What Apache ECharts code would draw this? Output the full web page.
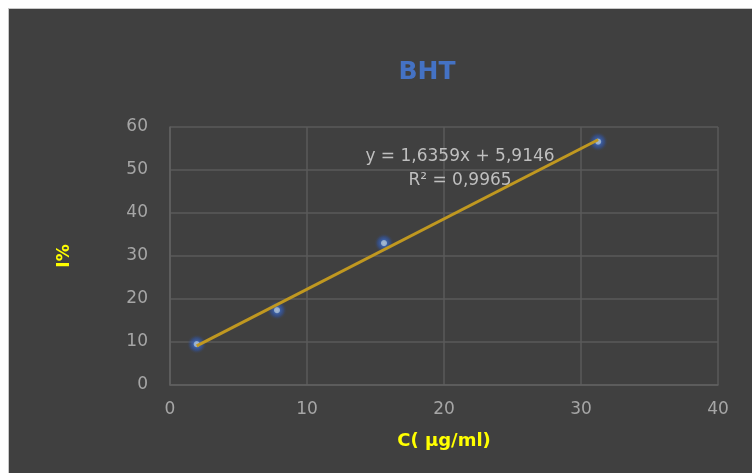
<!DOCTYPE html>
<html>
<head>
<meta charset="utf-8">
<script src="https://cdn.jsdelivr.net/npm/echarts@6/dist/echarts.min.js"></script>
<style>
html,body{margin:0;padding:0;background:#fff;}
#c{width:752px;height:473px;}
</style>
</head>
<body>
<div id="c"></div>
<script>
// Data
var concentrations = [1.95, 7.81, 15.62, 31.25];
var inhibition = [9.5, 17.4, 33.0, 56.6];
// Trendline shown in the chart: y = 1,6359x + 5,9146
var slope = 1.6359;
var intercept = 5.9146;
var equationText = 'y = 1,6359x + 5,9146';
var r2Text = 'R² = 0,9965';

var points = concentrations.map(function (x, i) { return [x, inhibition[i]]; });
var xMin = Math.min.apply(null, concentrations);
var xMax = Math.max.apply(null, concentrations);
var trend = [[xMin, slope * xMin + intercept], [xMax, slope * xMax + intercept]];

var chart = echarts.init(document.getElementById('c'));
var fontFam = 'DejaVu Sans, Open Sans, sans-serif';
chart.setOption({
  backgroundColor: '#404040',
  animation: false,
  title: {
    text: 'BHT',
    left: 422, top: 55,
    textAlign: 'center',
    textStyle: { color: '#4472C4', fontSize: 25, fontWeight: 'bold', fontFamily: fontFam }
  },
  grid: { left: 170, right: 34, top: 127, bottom: 88 },
  xAxis: {
    type: 'value', min: 0, max: 40, interval: 10,
    name: 'C( µg/ml)', nameLocation: 'middle', nameGap: 47,
    nameTextStyle: { color: '#FFFF00', fontSize: 18, fontWeight: 'bold', fontFamily: fontFam },
    axisLine: { show: true, lineStyle: { color: '#606060', width: 1.5 } },
    axisTick: { show: false },
    axisLabel: { color: '#A6A6A6', fontSize: 17, margin: 16, fontFamily: fontFam },
    splitLine: { show: true, lineStyle: { color: '#5A5A5A', width: 1.5 } }
  },
  yAxis: {
    type: 'value', min: 0, max: 60, interval: 10,
    name: 'I%', nameLocation: 'middle', nameGap: 97, nameRotate: 90,
    nameTextStyle: { color: '#FFFF00', fontSize: 17, fontWeight: 'bold', fontFamily: fontFam },
    axisLine: { show: true, lineStyle: { color: '#606060', width: 1.5 } },
    axisTick: { show: false },
    axisLabel: { color: '#A6A6A6', fontSize: 17, margin: 22, fontFamily: fontFam },
    splitLine: { show: true, lineStyle: { color: '#5A5A5A', width: 1.5 } }
  },
  series: [
    {
      type: 'scatter',
      data: points,
      symbol: 'circle',
      symbolSize: 20,
      itemStyle: {
        color: {
          type: 'radial', x: 0.5, y: 0.5, r: 0.5,
          colorStops: [
            { offset: 0, color: '#C4DAF7' },
            { offset: 0.25, color: '#A9C8F0' },
            { offset: 0.35, color: '#3A64B8' },
            { offset: 0.65, color: 'rgba(47,85,170,0.6)' },
            { offset: 1, color: 'rgba(64,64,64,0)' }
          ]
        }
      },
      z: 2
    },
    {
      type: 'line',
      data: trend,
      symbol: 'none',
      lineStyle: { color: '#C09820', width: 3 },
      z: 3
    }
  ],
  graphic: [
    { type: 'rect', shape: { x: 0, y: 0, width: 752, height: 8 }, style: { fill: '#ffffff' }, z: 100 },
    { type: 'rect', shape: { x: 0, y: 0, width: 8, height: 473 }, style: { fill: '#ffffff' }, z: 100 },
    { type: 'rect', shape: { x: 8, y: 8, width: 744, height: 1 }, style: { fill: '#c8c8c8' }, z: 100 },
    { type: 'rect', shape: { x: 8, y: 8, width: 1, height: 465 }, style: { fill: '#c8c8c8' }, z: 100 },
    { type: 'text', style: { text: equationText, x: 460, y: 157, align: 'center', verticalAlign: 'middle', fill: '#BFBFBF', fontSize: 17, fontFamily: fontFam }, z: 50 },
    { type: 'text', style: { text: r2Text, x: 460, y: 181, align: 'center', verticalAlign: 'middle', fill: '#BFBFBF', fontSize: 17, fontFamily: fontFam }, z: 50 }
  ]
});
</script>
</body>
</html>
